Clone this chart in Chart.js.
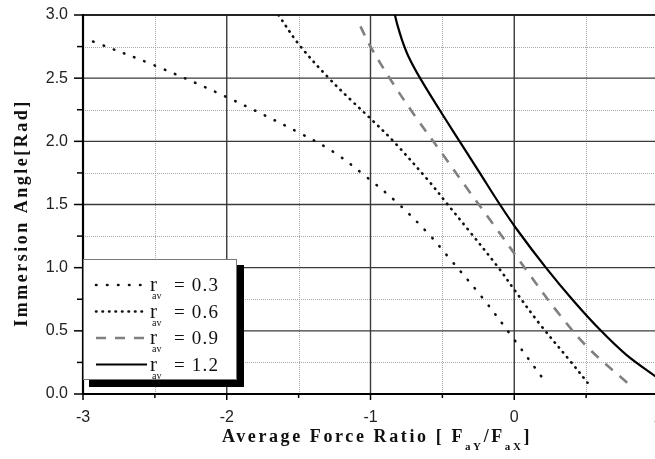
<!DOCTYPE html>
<html>
<head>
<meta charset="utf-8">
<script src="https://cdn.jsdelivr.net/npm/chart.js@4.4.0/dist/chart.umd.min.js"></script>
<style>
  html, body { margin: 0; padding: 0; background: #fff; overflow: hidden; }
  #wrap { width: 655px; height: 459px; overflow: hidden; }
</style>
</head>
<body>
<div id="wrap"><canvas id="forceChart" width="665" height="459"></canvas></div>
<script>
// curves, one x/y pair per r_av value
const r03X = [-2.93, -2.5, -2.0, -1.5, -1.25, -1.03, -0.81, -0.59, -0.47, -0.22, 0.0, 0.22];
const r03Y = [2.79, 2.60, 2.35, 2.07, 1.91, 1.72, 1.51, 1.26, 1.10, 0.76, 0.43, 0.09];

const r06X = [-1.64, -1.50, -1.29, -1.13, -1.00, -0.84, -0.59, -0.47, -0.32, -0.11, 0.01, 0.18, 0.39, 0.51];
const r06Y = [3.00, 2.77, 2.50, 2.32, 2.18, 2.00, 1.68, 1.51, 1.30, 1.00, 0.81, 0.55, 0.26, 0.09];

const r09X = [-1.07, -1.00, -0.85, -0.69, -0.50, -0.33, -0.15, 0.11, 0.30, 0.51, 0.79];
const r09Y = [2.91, 2.75, 2.47, 2.20, 1.90, 1.63, 1.35, 0.94, 0.65, 0.37, 0.085];

const r12X = [-0.83, -0.815, -0.78, -0.735, -0.655, -0.52, -0.38, -0.24, -0.10, 0.02, 0.22, 0.41, 0.595, 0.78, 1.0];
const r12Y = [3.00, 2.93, 2.80, 2.67, 2.50, 2.25, 2.00, 1.75, 1.50, 1.30, 1.00, 0.74, 0.51, 0.31, 0.125];

const rLabels = ['0.3', '0.6', '0.9', '1.2'];

const xMin = -3, xMax = 1, xStep = 0.5;
const yMin = 0, yMax = 3, yStep = 0.25;

const pts = (xs, ys) => xs.map((x, i) => ({ x: x, y: ys[i] }));
const isHalf = (v) => Math.abs(v * 2 - Math.round(v * 2)) < 1e-6;

const serif = '"Liberation Serif", "Times New Roman", serif';
const sans = '"Liberation Sans", Arial, sans-serif';

// hand drawn grid, ticks and axis lines so majors/minors can differ
const paperGrid = {
  id: 'paperGrid',
  beforeDatasetsDraw(chart) {
    const { ctx, chartArea: a, scales: { x, y } } = chart;
    ctx.save();
    // minor dotted
    ctx.strokeStyle = '#a8a8a8';
    ctx.lineWidth = 1;
    ctx.setLineDash([1, 1]);
    x.ticks.forEach(t => {
      if (Number.isInteger(t.value)) return;
      const px = Math.round(x.getPixelForValue(t.value)) + 0.5;
      ctx.beginPath(); ctx.moveTo(px, a.top); ctx.lineTo(px, a.bottom); ctx.stroke();
    });
    y.ticks.forEach(t => {
      if (isHalf(t.value)) return;
      const py = Math.round(y.getPixelForValue(t.value)) + 0.5;
      ctx.beginPath(); ctx.moveTo(a.left, py); ctx.lineTo(a.right, py); ctx.stroke();
    });
    // major solid
    ctx.setLineDash([]);
    ctx.strokeStyle = '#3a3a3a';
    ctx.lineWidth = 1.4;
    x.ticks.forEach(t => {
      if (!Number.isInteger(t.value) || t.value === xMin) return;
      const px = x.getPixelForValue(t.value);
      ctx.beginPath(); ctx.moveTo(px, a.top); ctx.lineTo(px, a.bottom); ctx.stroke();
    });
    y.ticks.forEach(t => {
      if (!isHalf(t.value) || t.value === yMin) return;
      const py = y.getPixelForValue(t.value);
      ctx.beginPath(); ctx.moveTo(a.left, py); ctx.lineTo(a.right, py); ctx.stroke();
    });
    // top frame
    ctx.strokeStyle = '#222';
    ctx.lineWidth = 2;
    ctx.beginPath(); ctx.moveTo(a.left, a.top); ctx.lineTo(a.right, a.top); ctx.stroke();
    ctx.restore();
  },
  afterDatasetsDraw(chart) {
    const { ctx, chartArea: a, scales: { x, y } } = chart;
    ctx.save();
    ctx.strokeStyle = '#000';
    ctx.lineWidth = 1.5;
    y.ticks.forEach(t => {
      const py = y.getPixelForValue(t.value);
      ctx.beginPath(); ctx.moveTo(a.left - (isHalf(t.value) ? 9 : 6), py); ctx.lineTo(a.left, py); ctx.stroke();
    });
    x.ticks.forEach(t => {
      const px = x.getPixelForValue(t.value);
      ctx.beginPath(); ctx.moveTo(px, a.bottom); ctx.lineTo(px, a.bottom + (Number.isInteger(t.value) ? 6 : 4)); ctx.stroke();
    });
    ctx.lineWidth = 2.2;
    ctx.beginPath();
    ctx.moveTo(a.left, a.top - 1);
    ctx.lineTo(a.left, a.bottom);
    ctx.lineTo(a.right, a.bottom);
    ctx.stroke();
    ctx.restore();
  }
};

// boxed legend with drop shadow and subscripted labels
const boxLegend = {
  id: 'boxLegend',
  afterDatasetsDraw(chart) {
    const ctx = chart.ctx;
    const bx = 83, by = 259, bw = 153, bh = 120;
    ctx.save();
    ctx.fillStyle = '#000';
    ctx.fillRect(bx + 6, by + 6, bw + 2, bh + 2);
    ctx.fillStyle = '#fff';
    ctx.fillRect(bx, by, bw, bh);
    ctx.strokeStyle = '#777';
    ctx.lineWidth = 1;
    ctx.strokeRect(bx + 0.5, by + 0.5, bw, bh);
    chart.data.datasets.forEach((ds, i) => {
      const cy = 285 + i * 26.5;
      ctx.strokeStyle = ds.borderColor;
      ctx.lineWidth = ds.borderWidth;
      ctx.lineCap = ds.borderCapStyle || 'butt';
      ctx.setLineDash(ds.borderDash || []);
      ctx.beginPath(); ctx.moveTo(96, cy); ctx.lineTo(147, cy); ctx.stroke();
      ctx.setLineDash([]);
      ctx.fillStyle = '#111';
      ctx.textAlign = 'left';
      ctx.textBaseline = 'alphabetic';
      ctx.letterSpacing = '0px';
      ctx.font = '21px ' + serif;
      ctx.fillText('r', 150, cy + 6);
      ctx.font = '10px ' + serif;
      ctx.fillText('av', 152, cy + 14);
      ctx.font = '19px ' + serif;
      ctx.letterSpacing = '1.2px';
      ctx.fillText('= ' + rLabels[i], 174, cy + 6);
    });
    ctx.restore();
  }
};

// axis titles, the x one needs subscripts
const axisTitles = {
  id: 'axisTitles',
  afterDraw(chart) {
    const ctx = chart.ctx;
    ctx.save();
    ctx.fillStyle = '#111';
    ctx.textBaseline = 'alphabetic';
    const big = 'bold 18px ' + serif, small = 'bold 11px ' + serif;
    const parts = [
      ['Average Force Ratio [ F', big, 0], ['aY', small, 8],
      ['/F', big, 0], ['aX', small, 8], [']', big, 0]
    ];
    ctx.letterSpacing = '2.6px';
    let total = 0;
    parts.forEach(p => { ctx.font = p[1]; total += ctx.measureText(p[0]).width; });
    let cx = 377 - total / 2;
    ctx.textAlign = 'left';
    parts.forEach(p => {
      ctx.font = p[1];
      ctx.fillText(p[0], cx, 442 + p[2]);
      cx += ctx.measureText(p[0]).width;
    });
    ctx.translate(27, 213);
    ctx.rotate(-Math.PI / 2);
    ctx.textAlign = 'center';
    ctx.font = big;
    ctx.letterSpacing = '2.5px';
    ctx.fillText('Immersion Angle[Rad]', 0, 0);
    ctx.restore();
  }
};

new Chart(document.getElementById('forceChart'), {
  type: 'line',
  data: {
    datasets: [
      {
        label: 'r_av = 0.3',
        data: pts(r03X, r03Y),
        borderColor: '#111',
        borderWidth: 2.6,
        borderDash: [0.5, 10.5],
        borderCapStyle: 'round',
      },
      {
        label: 'r_av = 0.6',
        data: pts(r06X, r06Y),
        borderColor: '#111',
        borderWidth: 2.6,
        borderDash: [0.5, 6],
        borderCapStyle: 'round',
      },
      {
        label: 'r_av = 0.9',
        data: pts(r09X, r09Y),
        borderColor: '#808080',
        borderWidth: 2.6,
        borderDash: [10, 9],
        borderCapStyle: 'butt',
      },
      {
        label: 'r_av = 1.2',
        data: pts(r12X, r12Y),
        borderColor: '#000',
        borderWidth: 2.2,
        borderCapStyle: 'butt',
      },
    ],
  },
  options: {
    responsive: false,
    animation: false,
    events: [],
    layout: { padding: { left: 0, right: 7, top: 15, bottom: 0 } },
    elements: {
      point: { radius: 0 },
      line: { tension: 0.35, fill: false },
    },
    plugins: {
      legend: { display: false },
      tooltip: { enabled: false },
    },
    scales: {
      x: {
        type: 'linear',
        min: xMin,
        max: xMax,
        afterFit: (s) => { s.height = 65; },
        // grid hidden (drawn by plugin) but tickLength still offsets the labels
        grid: { display: false, drawTicks: true, tickLength: 12 },
        border: { display: false },
        ticks: {
          stepSize: xStep,
          autoSkip: false,
          maxRotation: 0,
          padding: 2,
          color: '#222',
          font: { family: sans, size: 16 },
          callback: (v) => (Number.isInteger(v) ? String(v) : ''),
        },
      },
      y: {
        type: 'linear',
        min: yMin,
        max: yMax,
        afterFit: (s) => { s.width = 83; },
        grid: { display: false, drawTicks: true, tickLength: 12 },
        border: { display: false },
        ticks: {
          stepSize: yStep,
          autoSkip: false,
          padding: 3,
          color: '#222',
          font: { family: sans, size: 16 },
          callback: (v) => (isHalf(v) ? v.toFixed(1) : ''),
        },
      },
    },
  },
  plugins: [paperGrid, boxLegend, axisTitles],
});
</script>
</body>
</html>
